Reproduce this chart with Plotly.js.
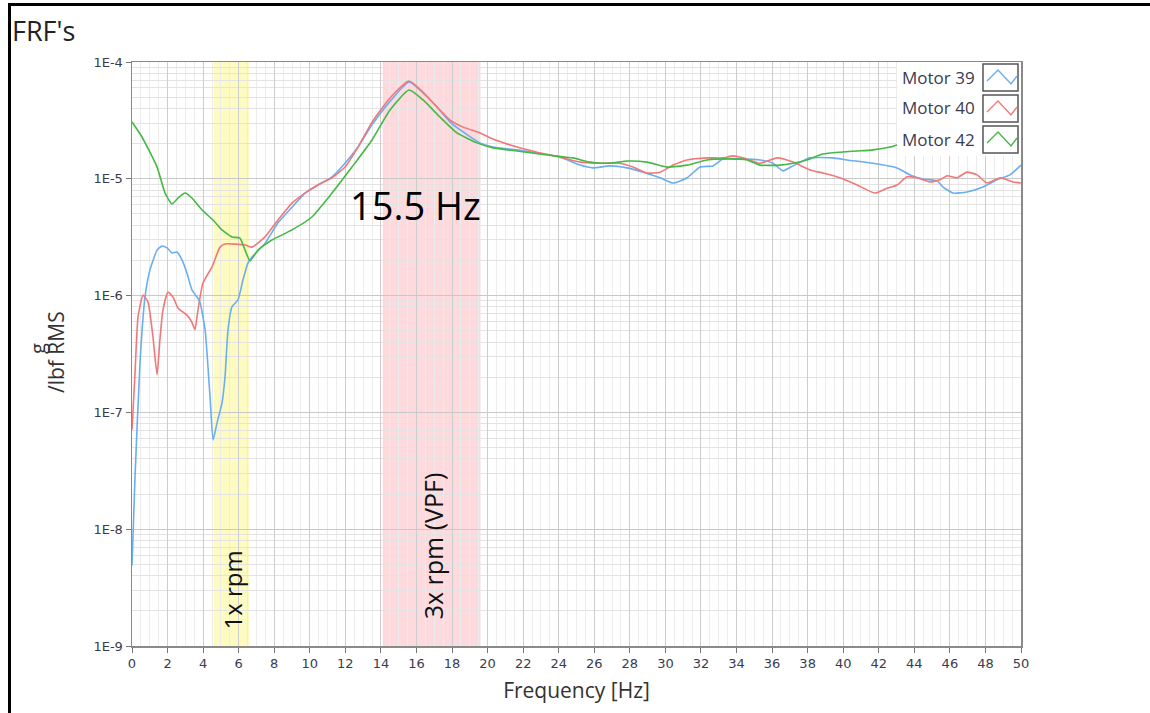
<!DOCTYPE html>
<html>
<head>
<meta charset="utf-8">
<script src="https://cdn.plot.ly/plotly-3.0.1.min.js"></script>
<style>
  html, body { margin: 0; padding: 0; background: #ffffff; }
  #wrap { position: relative; width: 1150px; height: 713px; overflow: hidden; }
  #chart { position: absolute; left: 0; top: 0; width: 1150px; height: 713px; }
  #frame { position: absolute; left: 8px; top: 3px; width: 1200px; height: 800px;
           border-left: 3px solid #000; border-top: 3px solid #000; pointer-events: none; }
</style>
</head>
<body>
<div id="wrap">
  <div id="chart"></div>
  <div id="frame"></div>
</div>
<script>
// ---------------- data ----------------
const seriesNames = ['Motor 39', 'Motor 40', 'Motor 42'];

const freq39 = [0.00, 0.17, 0.45, 0.73, 1.01, 1.41, 1.69, 1.97, 2.25, 2.53, 2.81, 3.09, 3.37, 3.66, 3.82,
  4.11, 4.39, 4.56, 4.78, 5.06, 5.23, 5.40, 5.62, 5.96, 6.24, 6.52, 6.75, 7.48, 8.21, 9.00, 9.73,
  10.46, 11.25, 11.98, 12.71, 13.50, 14.51, 15.58, 16.37, 17.15, 17.89, 18.62, 19.57, 20.30, 21.65,
  22.78, 24.07, 25.20, 25.93, 26.88, 27.84, 28.74, 29.70, 30.43, 31.22, 31.95, 32.68, 33.24, 34.20,
  35.32, 36.05, 36.61, 37.18, 38.13, 39.43, 40.21, 41.68, 43.03, 43.76, 44.49, 45.28, 45.61, 46.18,
  46.96, 47.86, 48.65, 49.38, 50.00];
const motor39 = [4.9e-9, 2.8e-8, 2.65e-7, 9.7e-7, 1.66e-6, 2.45e-6, 2.66e-6, 2.56e-6, 2.32e-6, 2.36e-6,
  2.02e-6, 1.56e-6, 1.12e-6, 9.7e-7, 8.8e-7, 5.1e-7, 1.35e-7, 5.8e-8, 8.1e-8, 1.2e-7, 2.0e-7, 5.1e-7,
  8.0e-7, 9.2e-7, 1.36e-6, 1.9e-6, 2.14e-6, 2.8e-6, 4.2e-6, 5.7e-6, 7.55e-6, 8.85e-6, 1.04e-5, 1.36e-5,
  1.87e-5, 2.9e-5, 4.6e-5, 6.75e-5, 5.43e-5, 4.12e-5, 3.06e-5, 2.52e-5, 2.03e-5, 1.87e-5, 1.77e-5,
  1.66e-5, 1.54e-5, 1.31e-5, 1.24e-5, 1.29e-5, 1.24e-5, 1.14e-5, 1.02e-5, 9.2e-6, 1.02e-5, 1.26e-5,
  1.29e-5, 1.48e-5, 1.48e-5, 1.45e-5, 1.36e-5, 1.17e-5, 1.29e-5, 1.51e-5, 1.51e-5, 1.45e-5, 1.36e-5,
  1.24e-5, 1.08e-5, 9.96e-6, 9.6e-6, 8.5e-6, 7.55e-6, 7.7e-6, 8.5e-6, 9.8e-6, 1.08e-5, 1.31e-5];

const freq40 = [0.00, 0.17, 0.34, 0.62, 0.90, 1.18, 1.41, 1.57, 1.74, 2.02, 2.31, 2.59, 3.09, 3.37, 3.54,
  3.71, 3.99, 4.50, 4.95, 5.23, 6.36, 6.75, 7.48, 8.21, 9.00, 9.73, 10.46, 11.25, 11.98, 12.71, 13.50,
  14.51, 15.58, 16.37, 17.15, 17.89, 18.62, 19.57, 20.30, 21.65, 22.78, 24.24, 25.20, 26.32, 27.45,
  28.18, 28.97, 29.70, 30.43, 31.22, 32.34, 33.24, 33.80, 34.36, 35.32, 36.28, 37.18, 38.13, 38.86,
  39.82, 40.78, 41.79, 42.46, 43.03, 43.59, 44.15, 44.88, 45.44, 45.84, 46.40, 46.96, 47.53, 48.09,
  48.82, 49.55, 50.00];
const motor40 = [7.1e-8, 2.17e-7, 6.6e-7, 1.01e-6, 8.8e-7, 4.4e-7, 2.1e-7, 4.2e-7, 7.5e-7, 1.07e-6,
  9.7e-7, 7.8e-7, 6.8e-7, 5.9e-7, 5.1e-7, 7.5e-7, 1.28e-6, 1.76e-6, 2.6e-6, 2.77e-6, 2.71e-6, 2.6e-6,
  3.18e-6, 4.44e-6, 6.2e-6, 7.55e-6, 8.85e-6, 1.02e-5, 1.26e-5, 1.87e-5, 3.06e-5, 4.92e-5, 6.88e-5,
  5.53e-5, 4.12e-5, 3.18e-5, 2.77e-5, 2.47e-5, 2.19e-5, 1.87e-5, 1.69e-5, 1.51e-5, 1.39e-5, 1.36e-5,
  1.36e-5, 1.26e-5, 1.12e-5, 1.14e-5, 1.31e-5, 1.45e-5, 1.51e-5, 1.51e-5, 1.57e-5, 1.51e-5, 1.36e-5,
  1.51e-5, 1.39e-5, 1.19e-5, 1.12e-5, 1.02e-5, 8.85e-6, 7.55e-6, 8.3e-6, 8.85e-6, 1.04e-5, 1.02e-5,
  9.4e-6, 9.8e-6, 1.06e-5, 1.02e-5, 1.14e-5, 1.08e-5, 9.2e-6, 1.02e-5, 9.4e-6, 9.2e-6];

const freq42 = [0.00, 0.56, 1.41, 1.86, 2.25, 2.59, 2.98, 3.37, 3.94, 4.56, 5.06, 5.62, 6.07, 6.36, 6.64,
  7.09, 7.87, 9.00, 10.12, 11.25, 12.37, 13.50, 14.51, 15.58, 16.37, 17.32, 18.28, 19.40, 20.30, 21.65,
  24.24, 24.80, 25.76, 26.88, 27.84, 28.97, 30.09, 31.22, 32.34, 33.46, 34.59, 35.32, 36.45, 37.18,
  37.96, 38.86, 39.82, 40.78, 41.68, 42.63, 43.03];
const motor42 = [3.06e-5, 2.28e-5, 1.26e-5, 7.55e-6, 6.08e-6, 6.85e-6, 7.55e-6, 6.85e-6, 5.4e-6, 4.44e-6,
  3.65e-6, 3.18e-6, 3.11e-6, 2.45e-6, 1.98e-6, 2.45e-6, 2.99e-6, 3.65e-6, 4.71e-6, 7.55e-6, 1.26e-5,
  2.15e-5, 3.88e-5, 5.75e-5, 4.73e-5, 3.38e-5, 2.47e-5, 2.03e-5, 1.84e-5, 1.73e-5, 1.54e-5, 1.51e-5,
  1.39e-5, 1.36e-5, 1.42e-5, 1.39e-5, 1.26e-5, 1.31e-5, 1.45e-5, 1.48e-5, 1.45e-5, 1.31e-5, 1.31e-5,
  1.36e-5, 1.45e-5, 1.63e-5, 1.69e-5, 1.73e-5, 1.77e-5, 1.87e-5, 1.95e-5];

// shaded frequency bands [start, end] in Hz and their labels
const bandStart = [4.6, 14.1];
const bandEnd = [6.6, 19.6];
const bandLabels = ['1x rpm', '3x rpm (VPF)'];
const peakLabel = '15.5 Hz';

const yTickVals = [1e-9, 1e-8, 1e-7, 1e-6, 1e-5, 1e-4];
const yTickText = ['1E-9', '1E-8', '1E-7', '1E-6', '1E-5', '1E-4'];
const yTitleLines = ['g', '/lbf RMS'];

// ---------------- styling ----------------
const colors = ['#6aaef0', '#f27878', '#45b845'];
const FONT = '"Open Sans", "Noto Sans", sans-serif';
const TICKFONT = '"DejaVu Sans", "Open Sans", sans-serif';
const TXT = '#3b3b4f';

const freqs = [freq39, freq40, freq42];
const vals = [motor39, motor40, motor42];
const traces = seriesNames.map((n, i) => ({
  type: 'scatter', mode: 'lines', name: n,
  x: freqs[i], y: vals[i],
  line: { color: colors[i], width: 1.6, shape: 'spline', smoothing: 0.5 },
  showlegend: false
}));

// minor log grid values
const minorY = [];
for (let e = -9; e < -4; e++) for (let m = 2; m <= 9; m++) minorY.push(m * Math.pow(10, e));

const toPX = px => (px - 132) / 889;
const toPY = py => (646 - py) / 584;

const shapes = [];
const annotations = [];
const bandColors = ['rgba(250,245,120,0.45)', 'rgba(245,150,160,0.35)'];
bandStart.forEach((s, i) => {
  shapes.push({ type: 'rect', xref: 'x', yref: 'paper', x0: s, x1: bandEnd[i], y0: 0, y1: 1,
    fillcolor: bandColors[i], line: { width: 0 }, layer: 'below' });
});
annotations.push({ xref: 'x', yref: 'paper', x: (bandStart[0] + bandEnd[0]) / 2 + 0.05, y: toPY(590),
  xanchor: 'center', yanchor: 'middle',
  text: bandLabels[0], textangle: -90, showarrow: false, font: { family: FONT, size: 24, color: '#111' } });
annotations.push({ xref: 'x', yref: 'paper', x: (bandStart[1] + bandEnd[1]) / 2 + 0.1, y: toPY(546),
  xanchor: 'center', yanchor: 'middle',
  text: bandLabels[1], textangle: -90, showarrow: false, font: { family: FONT, size: 25, color: '#111' } });
annotations.push({ xref: 'paper', yref: 'paper', x: toPX(415), y: toPY(205), xanchor: 'center', yanchor: 'middle',
  text: peakLabel, showarrow: false, font: { family: FONT, size: 38, color: '#000' } });

// y-axis title (two rotated lines)
annotations.push({ xref: 'paper', yref: 'paper', x: toPX(37), y: toPY(349), xanchor: 'center', yanchor: 'middle',
  text: yTitleLines[0], textangle: -90, showarrow: false, font: { family: FONT, size: 20, color: '#333' } });
annotations.push({ xref: 'paper', yref: 'paper', x: toPX(56), y: toPY(352), xanchor: 'center', yanchor: 'middle',
  text: yTitleLines[1], textangle: -90, showarrow: false, font: { family: FONT, size: 21, color: '#333' } });

// custom legend (text on the left, sample box on the right) in the top-right corner
const lgX0 = toPX(897), lgY0 = toPY(156);
shapes.push({ type: 'rect', xref: 'paper', yref: 'paper', x0: lgX0, x1: 1, y0: lgY0, y1: 1,
  fillcolor: '#ffffff', line: { width: 0 }, layer: 'above' });
const rowTop = [64, 95, 126];
seriesNames.forEach((n, i) => {
  const t = rowTop[i], b = t + 27;
  const bx0 = 983, bx1 = 1018;
  shapes.push({ type: 'rect', xref: 'paper', yref: 'paper', x0: toPX(bx0), x1: toPX(bx1), y0: toPY(b), y1: toPY(t),
    fillcolor: '#ffffff', line: { color: '#555', width: 1.5 }, layer: 'above' });
  const pts = [[bx0 + 4, t + 17], [bx0 + 15, t + 6], [bx0 + 28, t + 20], [bx1 - 1, t + 12]];
  shapes.push({ type: 'path', xref: 'paper', yref: 'paper', layer: 'above',
    path: pts.map((p, k) => (k ? 'L' : 'M') + toPX(p[0]) + ',' + toPY(p[1])).join(' '),
    line: { color: colors[i], width: 1.4 } });
  annotations.push({ xref: 'paper', yref: 'paper', x: toPX(977), y: toPY(t + 13), xanchor: 'right', yanchor: 'middle',
    text: n, showarrow: false, font: { family: FONT, size: 17, color: TXT } });
});

const layout = {
  width: 1150, height: 713,
  margin: { l: 132, r: 129, t: 62, b: 67 },
  paper_bgcolor: '#ffffff', plot_bgcolor: '#ffffff',
  showlegend: false,
  title: { text: "FRF's", x: 12 / 1150, xref: 'container', xanchor: 'left',
    y: 1 - 32 / 713, yref: 'container', yanchor: 'middle',
    font: { family: FONT, size: 27, color: '#222' } },
  xaxis: {
    range: [0, 50], dtick: 2, tick0: 0, ticks: 'outside', ticklen: 5, tickcolor: '#777',
    showline: true, mirror: true, linecolor: '#8a8a8a', linewidth: 1.5,
    showgrid: true, gridcolor: '#cdcdcd', gridwidth: 1, zeroline: false,
    minor: { dtick: 0.5, tick0: 0, showgrid: true, gridcolor: '#ececec', ticks: '' },
    tickfont: { family: TICKFONT, size: 13, color: TXT },
    title: { text: 'Frequency [Hz]', font: { family: FONT, size: 21, color: '#333' }, standoff: 13 }
  },
  yaxis: {
    type: 'log', range: [-9, -4], tickmode: 'array', tickvals: yTickVals, ticktext: yTickText,
    ticks: 'outside', ticklen: 5, tickcolor: '#777',
    showline: true, mirror: true, linecolor: '#8a8a8a', linewidth: 1.5,
    showgrid: true, gridcolor: '#c8c8c8', zeroline: false,
    minor: { tickmode: 'array', tickvals: minorY, showgrid: true, gridcolor: '#e3e3e3', ticks: '' },
    tickfont: { family: TICKFONT, size: 13, color: TXT }
  },
  shapes: shapes,
  annotations: annotations
};

Plotly.newPlot('chart', traces, layout, { displayModeBar: false, staticPlot: true });
</script>
</body>
</html>
